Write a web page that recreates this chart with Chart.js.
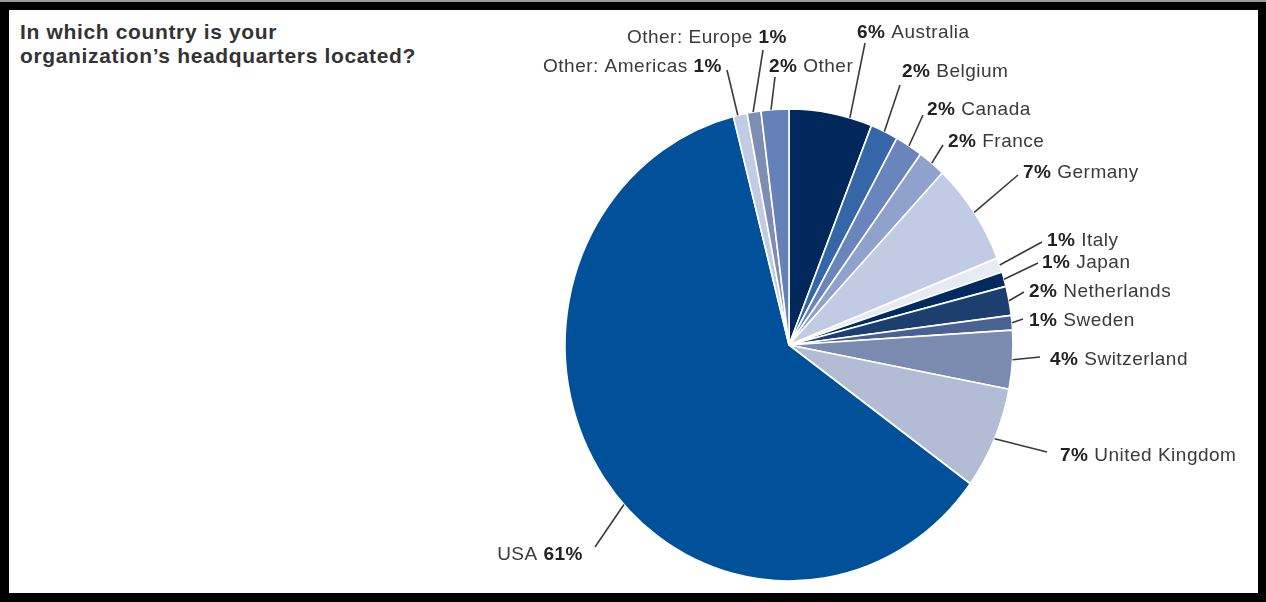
<!DOCTYPE html>
<html>
<head>
<meta charset="utf-8">
<script src="https://cdn.jsdelivr.net/npm/chart.js@4.4.1/dist/chart.umd.min.js"></script>
<style>
  html, body { margin: 0; padding: 0; background: #fff; }
  body { width: 1266px; height: 602px; position: relative; overflow: hidden; }
  .topline { position: absolute; left: 0; top: 0; width: 1266px; height: 2px; background: #9a9a9a; }
  .frame {
    position: absolute; left: 0; top: 2px; width: 1266px; height: 600px;
    box-sizing: border-box; border: solid #000; border-width: 8px 8px 9px 9px;
  }
  h1 {
    position: absolute; left: 20px; top: 20px; margin: 0;
    font: bold 21px/24px "Liberation Sans", Arial, sans-serif;
    letter-spacing: 0.65px; color: #333;
  }
  canvas { position: absolute; left: 0; top: 0; }
</style>
</head>
<body>
<div class="topline"></div>
<div class="frame"></div>
<h1>In which country is your<br>organization’s headquarters located?</h1>
<canvas id="hqChart" width="1266" height="602"></canvas>
<script>
const countries = [
    "Australia", "Belgium", "Canada", "France", "Germany", "Italy", "Japan",
    "Netherlands", "Sweden", "Switzerland", "United Kingdom", "USA",
    "Other: Americas", "Other: Europe", "Other"
];
const shares = [6, 2, 2, 2, 7, 1, 1, 2, 1, 4, 7, 61, 1, 1, 2];

const sliceColors = [
    "#00285a", "#3566a8", "#6a84bc", "#8fa2cc", "#c2cbe4", "#e6eaf3", "#002b60",
    "#1d3f6f", "#4a6291", "#7b8bb0", "#b2bcd5", "#00519a",
    "#c2cbe4", "#7e8db3", "#6680b9"
];

// the pie is a little taller than wide
const squash = 236 / 224;

// where each leader starts along its slice (t), where it ends and where its text sits,
// all relative to the pie centre
const labelLayout = [
    { t: 0.73, end: [76, -302], text: [68, -314], pctFirst: true },
    { t: 0.5, end: [111, -260], text: [113, -275.5], pctFirst: true },
    { t: 0.5, end: [134, -230], text: [138, -237.5], pctFirst: true },
    { t: 0.5, end: [154, -200], text: [159, -205.5], pctFirst: true },
    { t: 0.5, end: [229, -170], text: [234, -174], pctFirst: true },
    { t: 0.5, end: [253, -103], text: [258, -106], pctFirst: true },
    { t: 0.5, end: [249, -82], text: [253, -84.5], pctFirst: true },
    { t: 0.5, end: [235, -53], text: [240, -55], pctFirst: true },
    { t: 0.5, end: [234, -26], text: [240, -26], pctFirst: true },
    { t: 0.5, end: [251, 12], text: [261, 12.5], pctFirst: true },
    { t: 0.5, end: [258, 107], text: [271, 108.5], pctFirst: true },
    { t: 0.462, end: [-194, 202], text: [-206, 207.5], right: true },
    { t: 0.33, end: [-62, -275], text: [-67, -280.5], right: true },
    { t: 0.44, end: [-26, -295], text: [-2, -309.5], right: true },
    { t: 0.36, end: [-14, -268], text: [-20, -280.5], pctFirst: true }
];

const labelFont = '"Liberation Sans", Arial, sans-serif';

const sliceLabels = {
    id: "sliceLabels",
    beforeDatasetsDraw(chart) {
        const arc = chart.getDatasetMeta(0).data[0];
        const ctx = chart.ctx;
        ctx.save();
        ctx.translate(arc.x, arc.y);
        ctx.scale(1, squash);
        ctx.translate(-arc.x, -arc.y);
    },
    afterDatasetsDraw(chart) {
        const ctx = chart.ctx;
        ctx.restore();
        ctx.save();
        ctx.letterSpacing = "0.5px";
        chart.getDatasetMeta(0).data.forEach((arc, i) => {
            const lay = labelLayout[i];
            const a = arc.startAngle + (arc.endAngle - arc.startAngle) * lay.t;
            const r = arc.outerRadius;
            const x0 = arc.x + Math.cos(a) * r;
            const y0 = arc.y + Math.sin(a) * r * squash;

            ctx.beginPath();
            ctx.moveTo(x0, y0);
            ctx.lineTo(arc.x + lay.end[0], arc.y + lay.end[1]);
            ctx.strokeStyle = "#3a3a3a";
            ctx.lineWidth = 1.6;
            ctx.stroke();

            const pct = chart.data.datasets[0].data[i] + "%";
            const name = chart.data.labels[i];
            const parts = lay.pctFirst
                ? [[pct, true], [" " + name, false]]
                : [[name + " ", false], [pct, true]];

            let total = 0;
            parts.forEach((p) => {
                ctx.font = (p[1] ? "bold " : "") + "19px " + labelFont;
                p.push(ctx.measureText(p[0]).width);
                total += p[2];
            });

            let x = arc.x + lay.text[0] - (lay.right ? total : 0);
            const y = arc.y + lay.text[1] + 7;
            ctx.textAlign = "left";
            ctx.textBaseline = "alphabetic";
            parts.forEach((p) => {
                ctx.font = (p[1] ? "bold " : "") + "19px " + labelFont;
                ctx.fillStyle = p[1] ? "#222" : "#3a3a3a";
                ctx.fillText(p[0], x, y);
                x += p[2];
            });
        });
        ctx.restore();
    }
};

const ctx = document.getElementById("hqChart").getContext("2d");
const hqChart = new Chart(ctx, {
    type: "pie",
    data: {
        labels: countries,
        datasets: [
            {
                data: shares,
                backgroundColor: sliceColors,
                borderColor: "#ffffff",
                borderWidth: 1.6,
                radius: 224,
                clip: false,
                hoverOffset: 0,
            },
        ],
    },
    options: {
        responsive: false,
        animation: false,
        events: [],
        layout: {
            padding: { left: 489, right: 177, top: 105, bottom: 17 },
        },
        plugins: {
            legend: { display: false },
            tooltip: { enabled: false },
        },
    },
    plugins: [sliceLabels],
});
</script>
</body>
</html>
